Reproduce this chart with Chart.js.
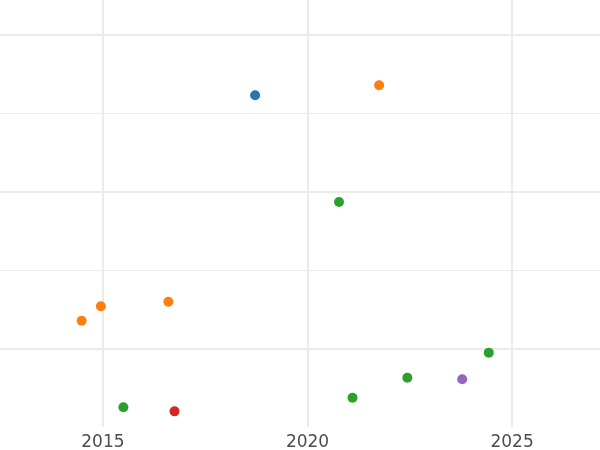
<!DOCTYPE html>
<html>
<head>
<meta charset="utf-8">
<script src="https://cdn.jsdelivr.net/npm/chart.js@4"></script>
<style>
html,body{margin:0;padding:0;background:#fff;}
#wrap{width:600px;height:450px;}
</style>
</head>
<body>
<div id="wrap"><canvas id="c" width="600" height="450"></canvas></div>
<script>
// Data
const xTicks = [2015, 2020, 2025];
const yGrid = [10, 15, 20, 25, 30];

const blueX = [2018.72];
const blueY = [26.14];
const orangeX = [2021.75, 2014.48, 2014.95, 2016.60];
const orangeY = [26.78, 11.78, 12.70, 12.99];
const greenX = [2020.77, 2015.50, 2021.10, 2022.44, 2024.43];
const greenY = [19.34, 6.27, 6.88, 8.15, 9.75];
const redX = [2016.75];
const redY = [6.01];
const purpleX = [2023.78];
const purpleY = [8.05];

function pts(xs, ys){ return xs.map((x,i)=>({x:x, y:ys[i]})); }
function ds(xs, ys, color){
  return {data: pts(xs, ys), backgroundColor: color, borderColor: color, pointRadius: 5, pointHoverRadius: 5, borderWidth: 0};
}

new Chart(document.getElementById('c'), {
  type: 'scatter',
  data: {
    datasets: [
      ds(blueX, blueY, '#1f77b4'),
      ds(orangeX, orangeY, '#ff7f0e'),
      ds(greenX, greenY, '#2ca02c'),
      ds(redX, redY, '#d62728'),
      ds(purpleX, purpleY, '#9467bd')
    ]
  },
  options: {
    responsive: false,
    animation: false,
    layout: {padding: 0, autoPadding: false},
    plugins: {legend: {display: false}, tooltip: {enabled: false}},
    scales: {
      x: {
        type: 'linear',
        min: 2012.485,
        max: 2027.148,
        afterBuildTicks: a => { a.ticks = xTicks.map(v => ({value: v})); },
        afterFit: a => { a.height = 23; },
        border: {display: false},
        grid: {color: '#ebebeb', lineWidth: 2, drawTicks: false},
        ticks: {
          padding: 5,
          color: '#4d4d4d',
          font: {family: 'DejaVu Sans', size: 17},
          callback: v => String(v),
          maxRotation: 0
        }
      },
      y: {
        type: 'linear',
        min: 5.013,
        max: 32.21,
        afterBuildTicks: a => { a.ticks = yGrid.map(v => ({value: v})); },
        border: {display: false},
        grid: {
          color: '#ebebeb',
          lineWidth: c => (c.tick && c.tick.value % 10 === 0) ? 2 : 1,
          drawTicks: false
        },
        ticks: {display: false}
      }
    }
  }
});
</script>
</body>
</html>
